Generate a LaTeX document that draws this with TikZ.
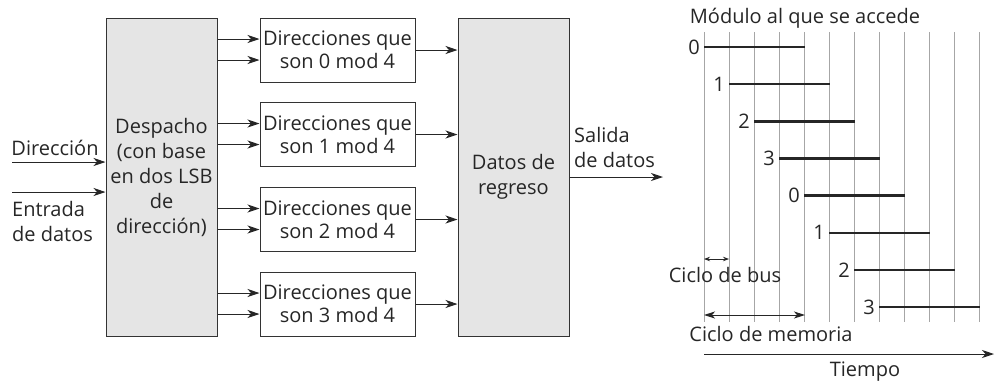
\documentclass[tikz,border=0pt]{standalone}
\usepackage{fontspec}
\setmainfont{Open Sans}
\usetikzlibrary{arrows.meta,calc}
\begin{document}
\begin{tikzpicture}[x=1pt,y=-1pt,
  every node/.style={font=\fontsize{20}{25}\selectfont, text=black!85},
  blk/.style={draw=black!80, line width=1pt, fill=black!10, minimum width=111pt, minimum height=318pt, align=center, inner sep=0pt},
  addr/.style={draw=black!80, line width=1pt, minimum width=155pt, minimum height=64pt, align=center, inner sep=0pt, font=\fontsize{20}{23}\selectfont},
  arr/.style={line width=1pt, draw=black!85, -{Stealth[length=12pt,width=8pt,inset=3.5pt]}},
  grid/.style={draw=black!35, line width=0.7pt},
  bar/.style={draw=black!85, line width=2.4pt},
  lab/.style={inner sep=0pt}
]
\useasboundingbox (0,0) rectangle (998,384);

% left block diagram
\node[blk] (desp) at (161.5,177) {Despacho\\(con base\\en dos LSB\\de\\dirección)};
\node[blk] (datos) at (513.5,177) {Datos de\\regreso};
\foreach \i/\y in {0/50,1/134.5,2/219.5,3/304}{
  \node[addr] (a\i) at (337.5,\y) {Direcciones que\\son \i\ mod 4};
  \coordinate (a\i t) at ($(a\i.west)+(0,-11)$);
  \coordinate (a\i b) at ($(a\i.west)+(0,10)$);
  \draw[arr] (desp.east |- a\i t) -- (a\i t);
  \draw[arr] (desp.east |- a\i b) -- (a\i b);
  \draw[arr] (a\i.east) -- (datos.west |- a\i.east);
}
\coordinate (inD) at (12,162);
\coordinate (inE) at (12,192);
\draw[arr] (inD) -- (desp.west |- inD);
\draw[arr] (inE) -- (desp.west |- inE);
\node[lab] (ldir) at (55,148) {Dirección};
\node[lab, align=left, anchor=west] (lent) at (12,221.5) {Entrada\\de datos};
\coordinate (outE) at (663,177);
\draw[arr] (datos.east) -- (outE);
\node[lab, align=left, anchor=west] (lsal) at (574,147.5) {Salida\\de datos};

% right timing diagram
\foreach \i in {0,...,11}{
  \draw[grid] (704+25*\i,32) -- (704+25*\i,322);
}
\node[lab] (lmod) at (805,18) {Módulo al que se accede};
\foreach \k/\m in {0/0,1/1,2/2,3/3,4/0,5/1,6/2,7/3}{
  \coordinate (bs\k) at (704+25*\k,47+37.15*\k);
  \coordinate (be\k) at (805+25*\k,47+37.15*\k);
  \draw[bar] (bs\k) -- (be\k);
  \node[lab, anchor=east] (bl\k) at ($(bs\k)+(-4,0)$) {\m};
}
\coordinate (cbA) at (704,259);
\coordinate (cbB) at (729,259);
\draw[line width=0.8pt, draw=black!85, {Stealth[length=6pt,width=4.5pt]}-{Stealth[length=6pt,width=4.5pt]}] (cbA) -- (cbB);
\node[lab] (lbus) at (725,275) {Ciclo de bus};
\coordinate (cmA) at (704,315);
\coordinate (cmB) at (805,315);
\draw[line width=1pt, draw=black!85, {Stealth[length=11pt,width=7pt,inset=3pt]}-{Stealth[length=11pt,width=7pt,inset=3pt]}] (cmA) -- (cmB);
\node[lab] (lmem) at (771,334) {Ciclo de memoria};
\coordinate (tA) at (704,354);
\coordinate (tB) at (994,354);
\draw[arr] (tA) -- (tB);
\node[lab] (ltie) at (865,372) {Tiempo};
\end{tikzpicture}
\end{document}
